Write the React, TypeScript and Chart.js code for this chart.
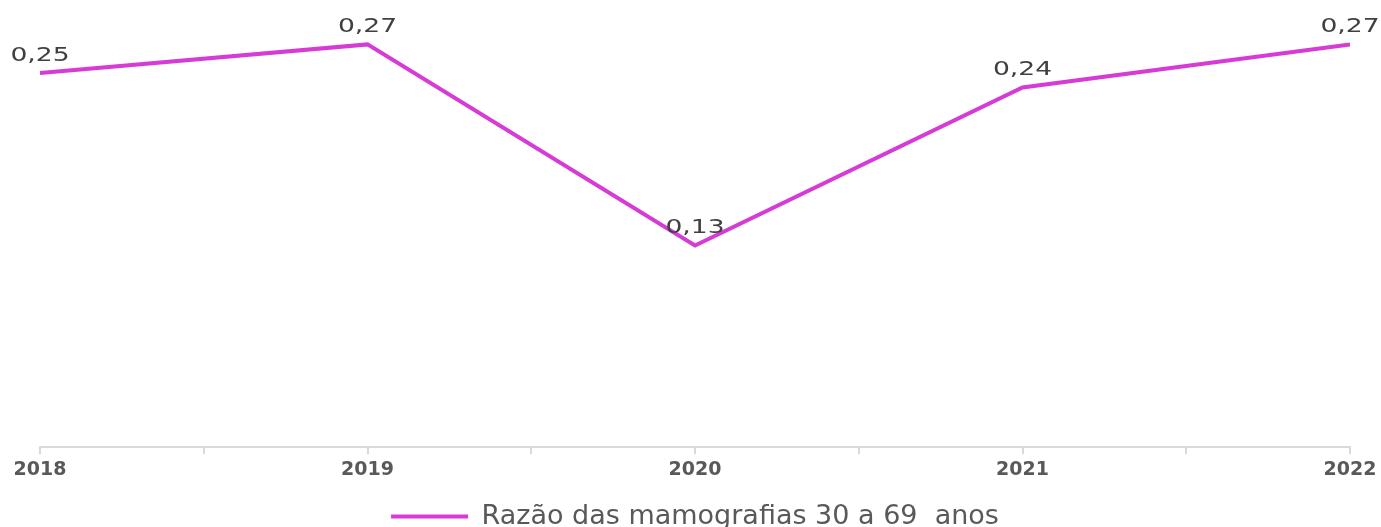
import React, { useEffect, useRef } from "react";
import { Chart, registerables } from "chart.js";

Chart.register(...registerables);

const years = [2018, 2019, 2020, 2021, 2022];
const ratios = [0.25, 0.27, 0.13, 0.24, 0.27];
const seriesLabel = "Razão das mamografias 30 a 69  anos";

const LINE_COLOR = "#D63BD6";
const FONT = "'DejaVu Sans', 'Noto Sans', sans-serif";

// Value labels above each point, drawn slightly widened
const valueLabels = {
  id: "valueLabels",
  afterDatasetsDraw(chart: any) {
    const { ctx } = chart;
    const meta = chart.getDatasetMeta(0);
    ctx.save();
    ctx.font = `19px ${FONT}`;
    ctx.fillStyle = "#404040";
    ctx.textAlign = "center";
    ctx.textBaseline = "alphabetic";
    meta.data.forEach((pt: any, i: number) => {
      const txt = ratios[i].toFixed(2).replace(".", ",");
      ctx.save();
      ctx.translate(pt.x, pt.y - 12);
      ctx.scale(1.4, 1);
      ctx.fillText(txt, 0, 0);
      ctx.restore();
    });
    ctx.restore();
  },
};

export default function App() {
  const ref = useRef<HTMLCanvasElement | null>(null);

  useEffect(() => {
    if (!ref.current) return;
    const chart = new Chart(ref.current, {
      type: "line",
      data: {
        datasets: [
          {
            label: seriesLabel,
            data: years.map((y, i) => ({ x: y, y: ratios[i] })),
            borderColor: LINE_COLOR,
            backgroundColor: LINE_COLOR,
            borderWidth: 4,
            pointRadius: 0,
            pointHoverRadius: 0,
            pointStyle: "line",
            tension: 0,
          },
        ],
      },
      options: {
        animation: false,
        responsive: true,
        maintainAspectRatio: false,
        layout: { padding: { left: 40, right: 31, top: 20, bottom: 0 } },
        scales: {
          x: {
            type: "linear",
            min: 2018,
            max: 2022,
            offset: false,
            grid: {
              display: true,
              drawOnChartArea: false,
              drawTicks: true,
              tickLength: 7,
              color: "#d9d9d9",
              lineWidth: 2,
            },
            border: { display: true, color: "#d9d9d9", width: 2 },
            ticks: {
              stepSize: 0.5,
              autoSkip: false,
              maxRotation: 0,
              padding: 4,
              color: "#595959",
              font: { family: FONT, size: 19, weight: "bold" },
              callback: (v: any) => (Number.isInteger(v) ? String(v) : ""),
            },
            afterFit: (scale: any) => {
              scale.height += 8;
            },
          },
          y: {
            display: false,
            min: -0.0105,
            max: 0.287,
          },
        },
        plugins: {
          legend: {
            display: true,
            position: "bottom",
            labels: {
              usePointStyle: true,
              pointStyleWidth: 77,
              boxHeight: 4,
              color: "#595959",
              padding: 10,
              font: { family: FONT, size: 27 },
            },
          },
          tooltip: { enabled: false },
        },
      },
      plugins: [valueLabels],
    });
    return () => chart.destroy();
  }, []);

  return (
    <div style={{ position: "absolute", left: 0, top: 0, width: 1381, height: 540, background: "#fff" }}>
      <canvas ref={ref} />
    </div>
  );
}
